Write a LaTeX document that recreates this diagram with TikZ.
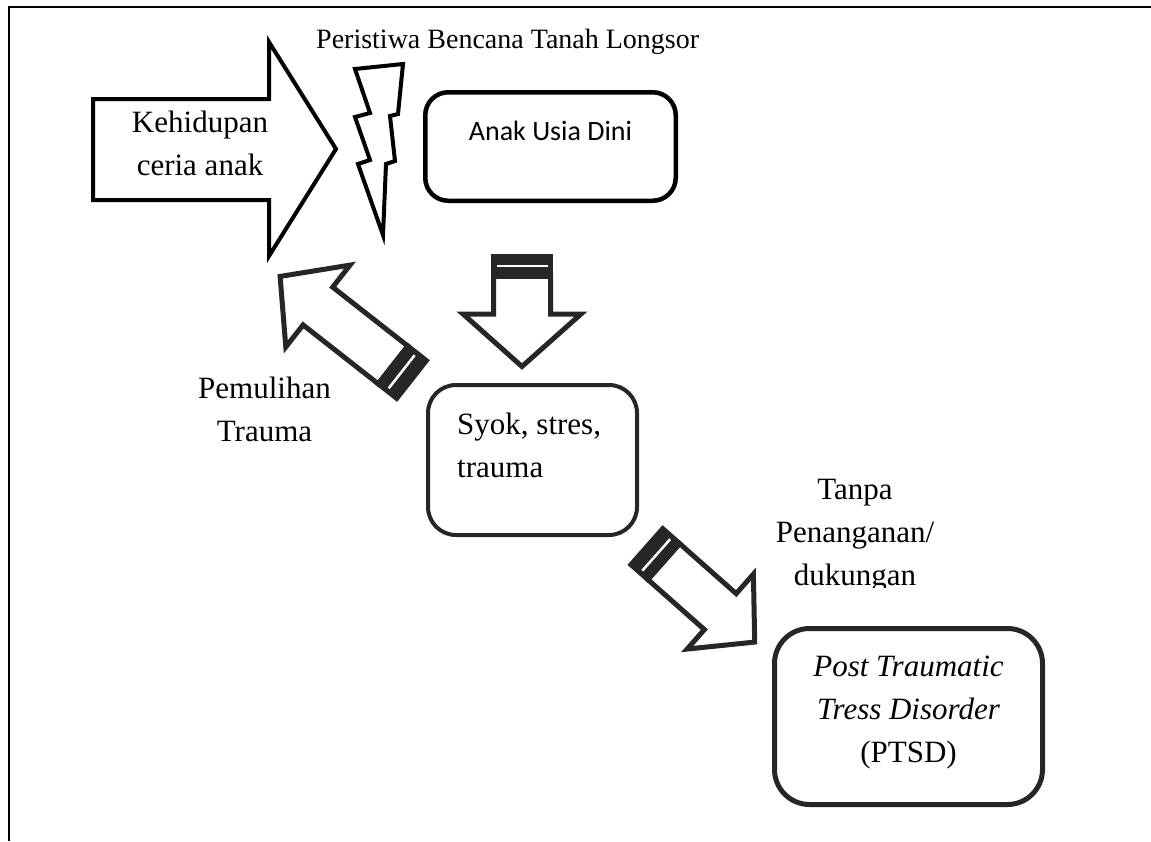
\documentclass[tikz,border=0pt]{standalone}
\usepackage{fontspec}
\setmainfont{Liberation Serif}
\newfontfamily\calibfont{Carlito}
\newcommand{\stripedarrow}[9]{%
\begin{scope}[shift={(#1,#2)},rotate=#3]
 \draw[arrowline, fill=white] (#6,-#4) -- (#8,-#4) -- (#8,-#5) -- (#9,0) -- (#8,#5) -- (#8,#4) -- (#6,#4) -- cycle;
 \draw[arrowline, fill=black!85] (2.5,-#4) -- (#6,-#4) -- (#6,#4) -- (2.5,#4) -- cycle;
 \draw[white, line width=2.5pt] (#7,-#4+3) -- (#7,#4-3);
\end{scope}}
\begin{document}
\begin{tikzpicture}[x=1pt,y=-1pt,
  outl/.style={line width=4pt, line join=miter, draw=black, fill=white},
  arrowline/.style={line width=5pt, line join=miter, draw=black!85},
  roundbox/.style={draw=black, fill=white, inner sep=0pt},
  txt/.style={font=\fontsize{31}{43}\selectfont, inner sep=0pt, text=black}]
\useasboundingbox (0,0) rectangle (1151,841);
% frame
\coordinate (ftl) at (9,7);
\coordinate (ftr) at (1151,7);
\coordinate (fbl) at (9,841);
\draw[line width=2.5pt] (ftr) -- (ftl) -- (fbl);
% big arrow
\draw[outl] (93,99) -- (269,99) -- (269,42) -- (336,149) -- (269,256) -- (269,200) -- (93,200) -- cycle;
\node[txt, align=center, anchor=base] (kehidupan) at (200,175) {Kehidupan\\ceria anak};
% lightning
\draw[outl] (355,69) -- (403,64) -- (398,114) -- (390,116) -- (395,161) -- (386,164) -- (383,235) -- (358,164) -- (370,160) -- (355,117) -- (370,113) -- cycle;
% title
\node[font=\fontsize{28}{34}\selectfont, anchor=base west, inner sep=0pt] (title) at (316,48) {Peristiwa Bencana Tanah Longsor};
% boxes
\node[roundbox, line width=4.5pt, rounded corners=23pt, minimum width=250.5pt, minimum height=108.5pt] (anak) at (550.5,146.5) {};
\node[font=\calibfont\fontsize{28}{34}\selectfont, anchor=base, inner sep=0pt] (anaktxt) at (550.5,140) {Anak Usia Dini};
\node[roundbox, draw=black!85, line width=4pt, rounded corners=28pt, minimum width=209pt, minimum height=150pt] (syok) at (532.5,460) {};
\node[txt, align=left, anchor=base west] (syoktxt) at (457,477) {Syok, stres,\\trauma};
\node[roundbox, draw=black!85, line width=5pt, rounded corners=35pt, minimum width=268pt, minimum height=176pt] (ptsd) at (908.5,716.5) {};
\node[txt, align=center, anchor=base] (ptsdtxt) at (908.5,762) {\itshape Post Traumatic\\\itshape Tress Disorder\\(PTSD)};
% striped arrows
\stripedarrow{522}{254}{-90}{28.5}{59}{22}{12}{60}{112.5}
\stripedarrow{413.5}{381}{-218.1}{24}{52}{26}{15}{121.5}{169.5}
\stripedarrow{645}{545}{-41.5}{24}{50}{25}{15}{100.5}{146.5}
% labels
\node[txt, align=center, anchor=base] (pemulihan) at (264.5,441) {Pemulihan\\Trauma};
\begin{scope}
\clip (700,450) rectangle (1000,587);
\node[txt, align=center, anchor=base] (tanpa) at (855,585) {Tanpa\\Penanganan/\\dukungan};
\end{scope}
\end{tikzpicture}
\end{document}
